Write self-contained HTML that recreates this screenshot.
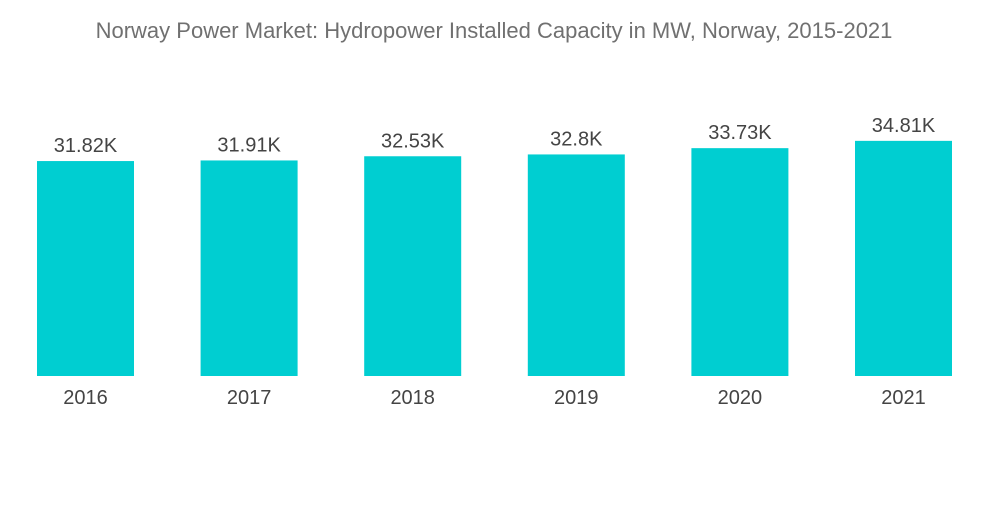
<!DOCTYPE html>
<html><head><meta charset="utf-8"><style>
body{margin:0;background:#fff;width:1000px;height:504px;overflow:hidden;font-family:"Liberation Sans",sans-serif}
</style></head><body>
<svg width="1000" height="504">
<text x="494" y="38" text-anchor="middle" font-size="22" fill="#707070">Norway Power Market: Hydropower Installed Capacity in MW, Norway, 2015-2021</text>
<g id="bars"></g>
</svg>
<script>
const categories=["2016","2017","2018","2019","2020","2021"];
const values=[31.82,31.91,32.53,32.8,33.73,34.81];
const valueLabels=["31.82K","31.91K","32.53K","32.8K","33.73K","34.81K"];
const base=376, scale=6.755, left=37, step=163.6, bw=97;
function yPos(v){return base-v*scale;}
function xPos(i){return left+i*step;}
const g=document.getElementById('bars');
const ns="http://www.w3.org/2000/svg";
categories.forEach((c,i)=>{
  const r=document.createElementNS(ns,'rect');
  r.setAttribute('x',xPos(i));r.setAttribute('y',yPos(values[i]));
  r.setAttribute('width',bw);r.setAttribute('height',base-yPos(values[i]));
  r.setAttribute('fill','#00ced1');
  
  
  g.appendChild(r);
  const t=document.createElementNS(ns,'text');
  t.setAttribute('x',xPos(i)+bw/2);t.setAttribute('y',yPos(values[i])-9);
  t.setAttribute('text-anchor','middle');t.setAttribute('font-size','20');t.setAttribute('fill','#444');
  t.textContent=valueLabels[i];
  
  
  g.appendChild(t);
  const x=document.createElementNS(ns,'text');
  x.setAttribute('x',xPos(i)+bw/2);x.setAttribute('y',404);
  x.setAttribute('text-anchor','middle');x.setAttribute('font-size','20');x.setAttribute('fill','#444');
  x.textContent=c;
  
  
  g.appendChild(x);
});
</script>
</body></html>
